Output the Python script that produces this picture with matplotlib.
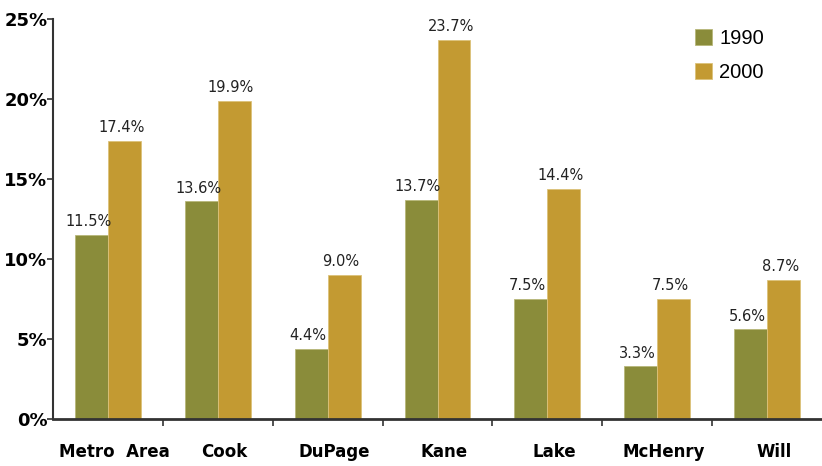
import matplotlib.pyplot as plt
import numpy as np

areas = ["Metro  Area", "Cook", "DuPage", "Kane", "Lake", "McHenry", "Will"]
pct_1990 = [11.5, 13.6, 4.4, 13.7, 7.5, 3.3, 5.6]
pct_2000 = [17.4, 19.9, 9.0, 23.7, 14.4, 7.5, 8.7]
years = ["1990", "2000"]

olive = "#8a8c3a"
gold = "#c39a32"

fig = plt.figure(figsize=(8.22, 4.66), dpi=100)
ax = fig.add_axes([0.0645, 0.1009, 0.9355, 0.8584])

x = np.arange(len(areas))
w = 0.3
b1 = ax.bar(x - w / 2, pct_1990, w, color=olive, edgecolor="#b8b77a", linewidth=0.6, label=years[0])
b2 = ax.bar(x + w / 2, pct_2000, w, color=gold, edgecolor="#dcc27a", linewidth=0.6, label=years[1])

for bars, vals in ((b1, pct_1990), (b2, pct_2000)):
    for r, v in zip(bars, vals):
        ax.text(r.get_x() + r.get_width() / 2 - 0.03, v + 0.35, f"{v:.1f}%",
                ha="center", va="bottom", fontsize=10.5, color="#222222",
                family="DejaVu Sans")

ax.set_xlim(-0.5, len(areas) - 0.5)
ax.set_ylim(0, 25)
ax.set_yticks(range(0, 26, 5))
ax.set_yticklabels([f"{t}%" for t in range(0, 26, 5)], fontsize=13, fontweight="bold")

# group labels sit at the centres, tick marks go between groups
ax.set_xticks(x + 0.06)
ax.set_xticklabels(areas, fontsize=12, fontweight="bold")
ax.tick_params(axis="x", length=0, pad=17)
ax.set_xticks(np.arange(0.5, len(areas) - 0.5, 1), minor=True)
ax.tick_params(axis="x", which="minor", length=5, width=1.2, color="#333333", direction="out")
ax.tick_params(axis="y", length=4, width=1.2, color="#333333", pad=0)

for s in ("top", "right"):
    ax.spines[s].set_visible(False)
ax.spines["left"].set_color("#333333")
ax.spines["bottom"].set_color("#333333")
ax.spines["left"].set_linewidth(1.5)
ax.spines["bottom"].set_linewidth(2)

ax.legend(loc="upper right", bbox_to_anchor=(0.948, 1.02), frameon=False,
          prop={"family": "Liberation Sans", "size": 14.5},
          handlelength=0.85, handleheight=0.85, handletextpad=0.35, labelspacing=0.75)

fig.savefig("out.png", dpi=100)
